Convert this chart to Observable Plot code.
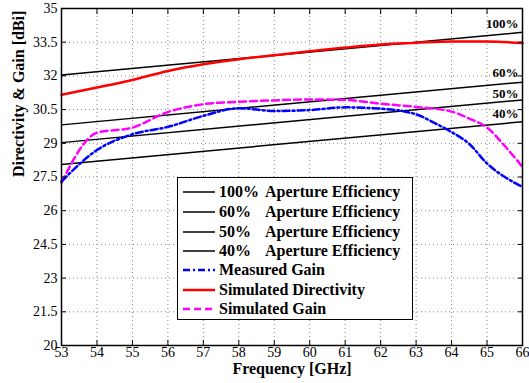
<!DOCTYPE html>
<html><head><meta charset="utf-8">
<script src="https://cdn.jsdelivr.net/npm/d3@7"></script>
<script src="https://cdn.jsdelivr.net/npm/@observablehq/plot@0.6"></script>
<style>
body{margin:0;background:#fff;}
#wrap{position:relative;width:529px;height:383px;font-family:"Liberation Serif","Times New Roman",Times,serif;}
#wrap svg text{font-family:"Liberation Serif","Times New Roman",Times,serif;}
#legend{position:absolute;left:177px;top:177px;width:234px;height:141px;border:1px solid #000;background:#fff;font-weight:bold;font-size:16px;}
.row{position:absolute;left:0;height:18px;display:flex;align-items:center;white-space:nowrap;}
.row svg{position:absolute;left:5px;top:7px;}
.row .t{position:absolute;left:41px;}
.row .a{position:absolute;left:87px;}
</style>
</head><body>
<div id="wrap"></div>
<script>
const xTicks = [53,54,55,56,57,58,59,60,61,62,63,64,65,66];
const yTicks = [20,21.5,23,24.5,26,27.5,29,30.5,32,33.5,35];

// Aperture efficiency reference lines (endpoints)
const effFreq = [53, 66];
const eff100 = [32.04, 33.94];
const eff60 = [29.82, 31.72];
const eff50 = [29.03, 30.93];
const eff40 = [28.06, 29.96];

const dirFreq = [53,54,55,56,57,58,59,60,61,62,63,64,65,66];
const simDirectivity = [31.16,31.48,31.82,32.22,32.52,32.74,32.92,33.1,33.26,33.4,33.47,33.53,33.53,33.46];

const measFreq = [53,54,55,56,57,58,59,60,61,62,63,63.5,64,64.5,65,65.5,66];
const measuredGain = [27.3,28.7,29.4,29.73,30.22,30.56,30.44,30.48,30.6,30.54,30.29,29.92,29.5,28.97,28.1,27.5,27.06];

const simFreq = [53,54,55,56,57,58,59,60,61,62,63,64,64.5,65,65.5,66];
const simulatedGain = [27.25,29.47,29.7,30.39,30.74,30.85,30.91,30.95,30.93,30.76,30.62,30.41,30.1,29.7,28.88,27.95];

const pctLabels = ["100%","60%","50%","40%"];
const pctLabelY = [34.31,32.13,31.19,30.3];

const xLabel = "Frequency [GHz]";
const yLabel = "Directivity & Gain [dBi]";

const legendItems = [
  {pct:"100%", name:"Aperture Efficiency", color:"#000", dash:null, w:1.5},
  {pct:"60%", name:"Aperture Efficiency", color:"#000", dash:null, w:1.5},
  {pct:"50%", name:"Aperture Efficiency", color:"#000", dash:null, w:1.5},
  {pct:"40%", name:"Aperture Efficiency", color:"#000", dash:null, w:1.5},
  {pct:null, name:"Measured Gain", color:"#0000ff", dash:"7,3,2,3", w:2.5},
  {pct:null, name:"Simulated Directivity", color:"#ff0000", dash:null, w:2.5},
  {pct:null, name:"Simulated Gain", color:"#ff00ff", dash:"7,4", w:2.5}
];

const effSeries = [eff100, eff60, eff50, eff40];
const effRows = effSeries.flatMap((s, k) => effFreq.map((f, i) => ({f, v: s[i], k})));
const dirRows = dirFreq.map((f, i) => ({f, v: simDirectivity[i]}));
const measRows = measFreq.map((f, i) => ({f, v: measuredGain[i]}));
const simRows = simFreq.map((f, i) => ({f, v: simulatedGain[i]}));
const pctRows = pctLabels.map((t, i) => ({t, y: pctLabelY[i]}));

const serif = "'Liberation Serif','Times New Roman',Times,serif";
const chart = Plot.plot({
  width: 529, height: 383,
  marginLeft: 61, marginRight: 7, marginTop: 8, marginBottom: 38,
  style: {fontFamily: serif, fontSize: "14px", background: "white", color: "black", overflow: "visible"},
  x: {domain: [53, 66]},
  y: {domain: [20, 35]},
  marks: [
    Plot.gridX(xTicks, {stroke: "#888", strokeOpacity: 1, strokeDasharray: "1,3"}),
    Plot.gridY(yTicks, {stroke: "#888", strokeOpacity: 1, strokeDasharray: "1,3"}),
    Plot.line(effRows, {x: "f", y: "v", z: "k", stroke: "black", strokeWidth: 1.5}),
    Plot.line(dirRows, {x: "f", y: "v", stroke: "#ff0000", strokeWidth: 2.5, curve: "monotone-x"}),
    Plot.line(simRows, {x: "f", y: "v", stroke: "#ff00ff", strokeWidth: 2.5, strokeDasharray: "7,4", curve: "monotone-x"}),
    Plot.line(measRows, {x: "f", y: "v", stroke: "#0000ff", strokeWidth: 2.5, strokeDasharray: "7,3,2,3", curve: "monotone-x"}),
    Plot.text(pctRows, {x: () => 66, y: "y", text: "t", textAnchor: "end", dx: -4, fontWeight: "bold", fontSize: 13}),
    Plot.axisX({ticks: xTicks, tickSize: -5, tickPadding: 7, tickFormat: d => String(d), label: null, fontSize: 14}),
    Plot.axisX({ticks: xTicks, anchor: "top", tickSize: -5, tickFormat: () => "", label: null}),
    Plot.axisY({ticks: yTicks, tickSize: -5, tickPadding: 9, tickFormat: d => String(d), label: null, fontSize: 14}),
    Plot.axisY({ticks: yTicks, anchor: "right", tickSize: -5, tickFormat: () => "", label: null}),
    Plot.frame({stroke: "black", strokeWidth: 1.5}),
    Plot.text([xLabel], {frameAnchor: "bottom", dy: 28, fontWeight: "bold", fontSize: 16}),
    Plot.text([yLabel], {frameAnchor: "left", dx: -43, rotate: -90, fontWeight: "bold", fontSize: 16})
  ]
});
const wrap = document.getElementById("wrap");
wrap.appendChild(chart);

const leg = document.createElement("div");
leg.id = "legend";
const rowTops = [13.7, 33.7, 53.7, 72.5, 92, 111.7, 131];
legendItems.forEach((it, i) => {
  const r = document.createElement("div");
  r.className = "row";
  r.style.top = (rowTops[i] - 9) + "px";
  r.innerHTML = `<svg width="32" height="4"><line x1="0" y1="2" x2="32" y2="2" stroke="${it.color}" stroke-width="${it.w}" ${it.dash ? `stroke-dasharray="${it.dash}"` : ""}/></svg>` +
    (it.pct ? `<span class="t">${it.pct}</span><span class="a">${it.name}</span>` : `<span class="t">${it.name}</span>`);
  leg.appendChild(r);
});
wrap.appendChild(leg);
</script>
</body></html>
